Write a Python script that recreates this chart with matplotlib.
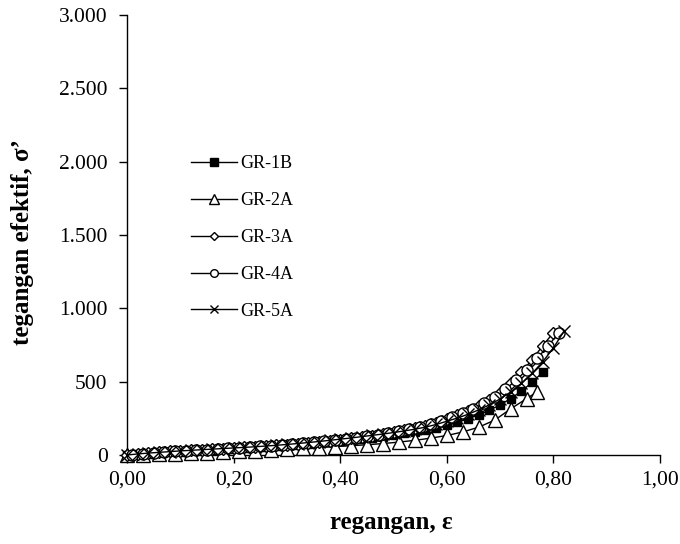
import matplotlib
matplotlib.use("Agg")
import matplotlib.pyplot as plt
from matplotlib.ticker import FixedLocator

plt.rcParams['font.family'] = ['Liberation Serif', 'DejaVu Serif']

# ---- data ----
gr1b_x = [0.00,0.02,0.04,0.06,0.08,0.10,0.12,0.14,0.16,0.18,
          0.20,0.22,0.24,0.26,0.28,0.30,0.32,0.34,0.36,0.38,
          0.40,0.42,0.44,0.46,0.48,0.50,0.52,0.54,0.56,0.58,
          0.60,0.62,0.64,0.66,0.68,0.70,0.72,0.74,0.76,0.78]
gr1b_y = [0,5,10,15,19,23,27,31,35,39,
          43,47,51,55,60,65,70,75,81,87,
          94,101,109,117,126,136,147,159,172,187,
          204,224,247,274,305,342,385,435,495,565]

gr2a_x = [0.00,0.03,0.06,0.09,0.12,0.15,0.18,0.21,0.24,0.27,
          0.30,0.33,0.36,0.39,0.42,0.45,0.48,0.51,0.54,0.57,
          0.60,0.63,0.66,0.69,0.72,0.75,0.77]
gr2a_y = [0,2,5,9,13,17,21,25,30,35,
          40,45,51,57,63,70,78,88,100,115,
          133,157,190,238,315,385,432]

gr3a_x = [0.00,0.02,0.04,0.06,0.08,0.10,0.12,0.14,0.16,0.18,
          0.20,0.22,0.24,0.26,0.28,0.30,0.32,0.34,0.36,0.38,
          0.40,0.42,0.44,0.46,0.48,0.50,0.52,0.54,0.56,0.58,
          0.60,0.62,0.64,0.66,0.68,0.70,0.72,0.74,0.76,0.78,
          0.80]
gr3a_y = [0,8,14,19,24,28,32,36,40,44,
          48,52,56,61,66,71,77,83,90,97,
          105,113,122,132,143,155,168,183,200,220,
          243,270,300,335,375,425,490,565,650,745,
          835]

gr4a_x = [0.01,0.03,0.05,0.07,0.09,0.11,0.13,0.15,0.17,0.19,
          0.21,0.23,0.25,0.27,0.29,0.31,0.33,0.35,0.37,0.39,
          0.41,0.43,0.45,0.47,0.49,0.51,0.53,0.55,0.57,0.59,
          0.61,0.63,0.65,0.67,0.69,0.71,0.73,0.75,0.77,0.79,
          0.81]
gr4a_y = [3,10,16,21,25,29,33,37,41,45,
          49,53,58,63,68,74,80,86,93,101,
          109,118,127,137,149,162,176,192,210,231,
          256,284,316,352,395,448,510,580,660,745,
          830]

gr5a_x = [0.00,0.02,0.04,0.06,0.08,0.10,0.12,0.14,0.16,0.18,
          0.20,0.22,0.24,0.26,0.28,0.30,0.32,0.34,0.36,0.38,
          0.40,0.42,0.44,0.46,0.48,0.50,0.52,0.54,0.56,0.58,
          0.60,0.62,0.64,0.66,0.68,0.70,0.72,0.74,0.76,0.78,
          0.80,0.82]
gr5a_y = [0,7,13,18,23,28,32,36,40,44,
          48,52,56,61,66,72,78,85,92,100,
          108,116,125,134,143,153,164,176,190,208,
          230,252,278,308,342,382,430,488,556,636,
          730,845]

labels = ['GR-1B', 'GR-2A', 'GR-3A', 'GR-4A', 'GR-5A']
x_ticks = [0.0, 0.2, 0.4, 0.6, 0.8, 1.0]
x_ticklabels = ['0,00', '0,20', '0,40', '0,60', '0,80', '1,00']
y_ticks = [0, 500, 1000, 1500, 2000, 2500, 3000]
y_ticklabels = ['0', '500', '1.000', '1.500', '2.000', '2.500', '3.000']

# ---- figure ----
fig = plt.figure(figsize=(6.8, 5.44), dpi=100)
ax = fig.add_axes([127/680, 1 - 455/544, 533/680, 440/544])

common = dict(color='black', linewidth=1.0, clip_on=False)
ax.plot(gr1b_x, gr1b_y, marker='s', markersize=6, markerfacecolor='black',
        markeredgecolor='black', label=labels[0], **common)
ax.plot(gr2a_x, gr2a_y, marker='^', markersize=9.5, markerfacecolor='white',
        markeredgecolor='black', markeredgewidth=1.0, label=labels[1], **common)
ax.plot(gr3a_x, gr3a_y, marker='D', markersize=6.5, markerfacecolor='white',
        markeredgecolor='black', markeredgewidth=1.0, label=labels[2], **common)
ax.plot(gr4a_x, gr4a_y, marker='o', markersize=8, markerfacecolor='white',
        markeredgecolor='black', markeredgewidth=1.0, label=labels[3], **common)
ax.plot(gr5a_x, gr5a_y, marker='x', markersize=8, markeredgecolor='black',
        markeredgewidth=1.0, label=labels[4], **common)

ax.set_xlim(0, 1.0)
ax.set_ylim(0, 3000)
ax.xaxis.set_major_locator(FixedLocator(x_ticks))
ax.yaxis.set_major_locator(FixedLocator(y_ticks))
ax.set_xticklabels(x_ticklabels)
ax.set_yticklabels(y_ticklabels)

for s in ['top', 'right']:
    ax.spines[s].set_visible(False)
for s in ['left', 'bottom']:
    ax.spines[s].set_linewidth(1.0)
    ax.spines[s].set_zorder(0.5)

ax.tick_params(axis='both', direction='out', length=6, width=1.0,
               labelsize=15.5, colors='black')
ax.tick_params(axis='x', pad=5)
ax.tick_params(axis='y', pad=8)

ax.set_xlabel('regangan, ε', fontsize=18, fontweight='bold')
ax.set_ylabel('tegangan efektif, σ’', fontsize=18, fontweight='bold')
ax.xaxis.label.set_va('center')
ax.yaxis.label.set_va('center')
ax.xaxis.set_label_coords(0.495, (455 - 523) / 440)
ax.yaxis.set_label_coords((23 - 127) / 533, 0.484)

leg = ax.legend(loc='upper left', bbox_to_anchor=(0.0965, 0.71), frameon=False,
                fontsize=13, handlelength=2.55, handletextpad=0.17,
                labelspacing=1.1, borderpad=0.2)
legend_ms = [5.5, 6.5, 4.5, 5.5, 5.5]
for h, ms in zip(leg.legend_handles, legend_ms):
    h.set_markersize(ms)

fig.savefig('out.png', dpi=100)
